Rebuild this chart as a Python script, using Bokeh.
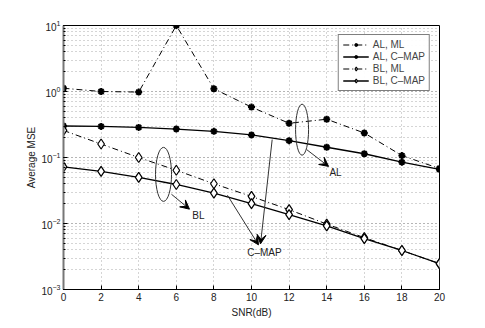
from bokeh.plotting import figure
from bokeh.models import Range1d, Legend, LegendItem, Arrow, VeeHead, Label, FixedTicker
from bokeh.embed import file_html
from bokeh.resources import INLINE

snr = [0, 2, 4, 6, 8, 10, 12, 14, 16, 18, 20]
al_ml = [1.12, 1.0, 0.98, 10.0, 1.1, 0.58, 0.33, 0.38, 0.235, 0.107, 0.068]
al_cmap = [0.30, 0.296, 0.286, 0.27, 0.249, 0.22, 0.18, 0.143, 0.114, 0.085, 0.066]
bl_ml = [0.257, 0.16, 0.10, 0.064, 0.040, 0.0257, 0.0162, 0.0098, 0.0061, 0.0039, 0.00246]
bl_cmap = [0.072, 0.0616, 0.050, 0.039, 0.0288, 0.020, 0.0136, 0.0092, 0.0059, 0.0039, 0.00246]
x_ticks = [0, 2, 4, 6, 8, 10, 12, 14, 16, 18, 20]

# annotations (data coords)
ell_x = [12.69, 5.32]
ell_y = [0.264, 0.0555]
ell_w = [13, 16]
ell_h = [51, 54]
arrows = [  # x0, y0, x1, y1
    (12.93, 0.132, 14.1, 0.0733),
    (5.74, 0.0278, 6.70, 0.0165),
    (8.72, 0.0268, 10.37, 0.00475),
    (11.1, 0.187, 10.48, 0.00492),
]
labels = [("AL", 14.47, 0.0594), ("BL", 7.18, 0.0134), ("C\u2013MAP", 10.69, 0.0036)]

FONT = "Liberation Sans"

p = figure(width=477, height=320, y_axis_type="log", output_backend="svg",
           toolbar_location=None, x_range=Range1d(0, 20), y_range=Range1d(1e-3, 10),
           min_border_left=63, min_border_right=38, min_border_top=25, min_border_bottom=29)
p.outline_line_color = "black"
p.outline_line_width = 1
p.background_fill_color = "white"

xa = p.xaxis[0]
ya = p.yaxis[0]
for ax in (xa, ya):
    ax.major_tick_in = 4
    ax.major_tick_out = 0
    ax.minor_tick_in = 2
    ax.minor_tick_out = 0
    ax.major_label_text_font = FONT
    ax.major_label_text_font_size = "10px"
    ax.major_label_text_color = "#222"
    ax.axis_label_text_font = FONT
    ax.axis_label_text_font_size = "10px"
    ax.axis_label_text_font_style = "normal"
    ax.axis_label_text_color = "#222"
    ax.major_label_standoff = 3
    ax.axis_label_standoff = 3

xa.ticker = FixedTicker(ticks=x_ticks)
xa.minor_tick_in = 0
xa.axis_label = "SNR(dB)"
ya.axis_label = "Average MSE"
ya.axis_label_standoff = 1
ya.axis_line_color = "#777777"
ya.axis_line_width = 2

p.xgrid.grid_line_color = "#aaaaaa"
p.xgrid.grid_line_dash = "1 3"
p.ygrid.grid_line_color = "#aaaaaa"
p.ygrid.grid_line_dash = "1 3"
p.ygrid.minor_grid_line_color = "#aaaaaa"
p.ygrid.minor_grid_line_dash = "1 3"

l1 = p.line(snr, al_ml, line_color="black", line_width=1, line_dash="6 3 1 3")
m1 = p.scatter(snr, al_ml, marker="asterisk", size=7, line_color="black", line_width=2)
l2 = p.line(snr, al_cmap, line_color="black", line_width=1.3)
m2 = p.scatter(snr, al_cmap, marker="asterisk", size=7, line_color="black", line_width=2)
l3 = p.line(snr, bl_ml, line_color="black", line_width=1, line_dash="6 3 1 3")
m3 = p.scatter(snr, bl_ml, marker="diamond", size=10, line_color="black", fill_color="white", line_width=1.2)
l4 = p.line(snr, bl_cmap, line_color="black", line_width=1.3)
m4 = p.scatter(snr, bl_cmap, marker="diamond", size=10, line_color="black", fill_color="white", line_width=1.2)

p.ellipse(x=ell_x, y=ell_y, width=ell_w, height=ell_h, width_units="screen",
          height_units="screen", fill_color=None, line_color="#333333", line_width=1)

for (x0, y0, x1, y1) in arrows:
    p.add_layout(Arrow(x_start=x0, y_start=y0, x_end=x1, y_end=y1, line_color="#333333",
                       line_width=1, end=VeeHead(size=9, fill_color="black", line_color="black")))

for (t, x, y) in labels:
    p.add_layout(Label(x=x, y=y, text=t, text_font=FONT, text_font_size="10px",
                       text_align="center", text_baseline="middle", text_color="#222"))

legend = Legend(items=[
    LegendItem(label="AL, ML", renderers=[l1, m1]),
    LegendItem(label="AL, C\u2013MAP", renderers=[l2, m2]),
    LegendItem(label="BL, ML", renderers=[l3, m3]),
    LegendItem(label="BL, C\u2013MAP", renderers=[l4, m4]),
], location="top_right")
legend.label_text_font = FONT
legend.label_text_font_size = "10px"
legend.label_height = 9
legend.glyph_width = 26
legend.glyph_height = 9
legend.spacing = 1
legend.padding = 4
legend.margin = 9
legend.border_line_color = "black"
legend.border_line_width = 1
legend.label_standoff = 4
p.add_layout(legend)

open("out.html", "w").write(file_html(p, INLINE))
